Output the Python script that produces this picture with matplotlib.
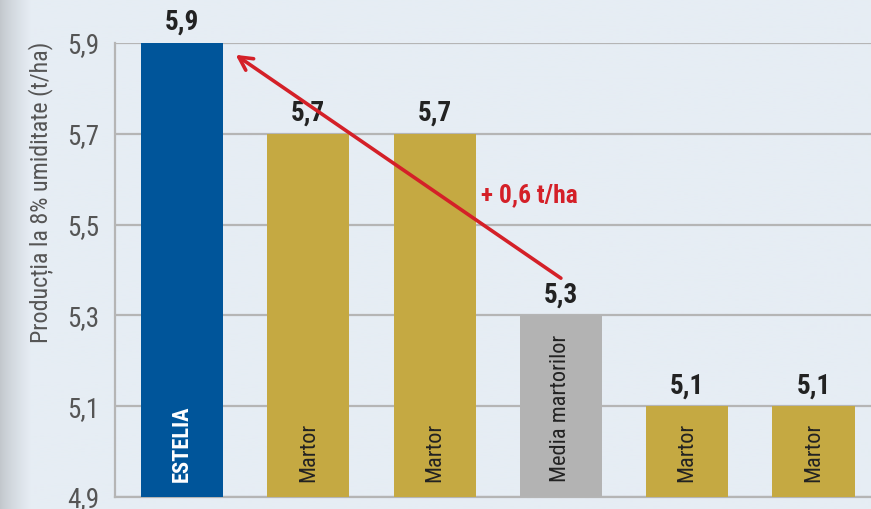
import numpy as np
import matplotlib
matplotlib.use("Agg")
import matplotlib.pyplot as plt
from matplotlib import font_manager

categories = ["ESTELIA", "Martor", "Martor", "Media martorilor", "Martor", "Martor"]
values = [5.9, 5.7, 5.7, 5.3, 5.1, 5.1]
value_labels = ["5,9", "5,7", "5,7", "5,3", "5,1", "5,1"]
yticks = [4.9, 5.1, 5.3, 5.5, 5.7, 5.9]
ytick_labels = ["4,9", "5,1", "5,3", "5,5", "5,7", "5,9"]
bar_colors = ["#00559a", "#c5a942", "#c5a942", "#b3b3b3", "#c5a942", "#c5a942"]
text_colors = ["white", "#222222", "#222222", "#222222", "#222222", "#222222"]
text_weights = ["bold", "normal", "normal", "normal", "normal", "normal"]
diff_label = "+ 0,6 t/ha"
ylabel = "Producția la 8% umiditate (t/ha)"

available = {f.name for f in font_manager.fontManager.ttflist}
fams = [f for f in ['Roboto Condensed', 'Liberation Sans Narrow', 'Liberation Sans'] if f in available]
condensed = fams and fams[0] != 'Liberation Sans'
plt.rcParams['font.family'] = fams + ['DejaVu Sans']
scale = 1.15 if condensed else 1.0

fig = plt.figure(figsize=(8.71, 5.09), dpi=100)
bg_color = np.array([0xe6, 0xed, 0xf4]) / 255.0
fig.patch.set_facecolor(bg_color)

# background with darker left strip gradient
bgax = fig.add_axes([0, 0, 1, 1], zorder=-10)
w = 871
xs = np.arange(w)
dark = np.array([0xc2, 0xc7, 0xcc]) / 255.0
t = np.clip(xs / 30.0, 0, 1) ** 0.8
row = dark[None, :] * (1 - t[:, None]) + bg_color[None, :] * t[:, None]
img = np.repeat(row[None, :, :], 10, axis=0)
bgax.imshow(img, aspect='auto', extent=[0, 1, 0, 1])
bgax.set_axis_off()

ax = fig.add_axes([115 / 871, 12 / 509, 1 - 115 / 871, (497 - 43) / 509])
ax.set_facecolor('none')
x = np.arange(len(values))
bars = ax.bar(x, values, width=0.65, color=bar_colors, zorder=3, bottom=0)
ax.set_ylim(4.9, 5.9)
ax.set_xlim(-0.53, 5.455)

ax.set_yticks(yticks)
ax.set_yticklabels(ytick_labels, fontsize=17 * scale, color="#555555")
ax.tick_params(axis='y', length=0, pad=11)
ax.set_xticks([])
ax.yaxis.grid(True, color="#b5b5b5", linewidth=1.6, zorder=0)
ax.set_axisbelow(True)
for s in ["top", "right"]:
    ax.spines[s].set_visible(False)
for s in ["left", "bottom"]:
    ax.spines[s].set_color("#b5b5b5")
    ax.spines[s].set_linewidth(1.6)

ax.set_ylabel(ylabel, fontsize=15 * scale, color="#555555")
ax.yaxis.set_label_coords((54 - 115) / 756, (497 - 192) / 454)

for xi, v, lab in zip(x, values, value_labels):
    ax.annotate(lab, (xi, v), xytext=(0, 5), textcoords='offset points',
                ha='center', va='bottom', fontsize=17 * scale, fontweight='bold',
                color="#222222", clip_on=False, annotation_clip=False)

for xi, cat, tc, tw in zip(x, categories, text_colors, text_weights):
    ax.annotate(cat, (xi, 4.9), xytext=(0, 11), textcoords='offset points',
                ha='center', va='bottom', rotation=90, fontsize=14 * scale,
                color=tc, fontweight=tw, zorder=4)

ax.annotate("", xy=(0.425, 5.874), xytext=(3.0, 5.382),
            arrowprops=dict(arrowstyle="->,head_length=0.95,head_width=0.5",
                            color="#d42028", lw=2.6, shrinkA=0, shrinkB=0),
            zorder=5)
ax.text(2.37, 5.565, diff_label, color="#d42028", fontsize=16 * scale,
        fontweight='bold', ha='left', va='center', zorder=5)

fig.savefig("out.png", dpi=100, facecolor=fig.get_facecolor())
